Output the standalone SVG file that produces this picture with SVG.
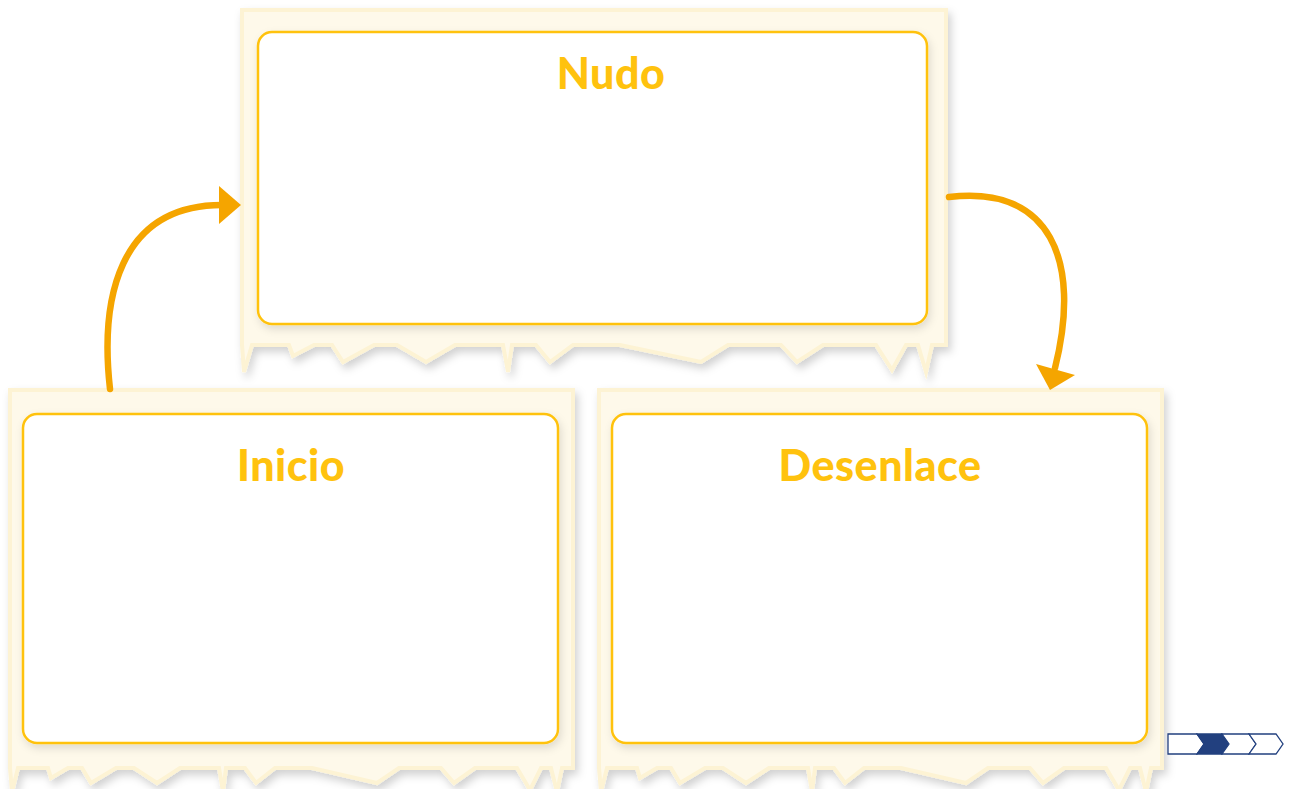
<svg xmlns="http://www.w3.org/2000/svg" width="1291" height="789" viewBox="0 0 1291 789">
<defs>
<style>
.paper{fill:#FEF9EA;stroke:#FDF3D4;stroke-width:4;filter:url(#sh)}
.card{fill:#FFFFFF;stroke:#FFC20E;stroke-width:2.5;filter:url(#sh2)}
.title{font-family:Lato,"Liberation Sans",sans-serif;font-weight:900;font-size:43px;fill:#FFC20E;text-anchor:middle;letter-spacing:0.5px}
.conn{fill:none;stroke:#F5A500;stroke-width:6.5;stroke-linecap:round}
.head{fill:#F5A500}
.chev{fill:#FFFFFF;stroke:#22407F;stroke-width:1.3}
</style>
<filter id="sh" x="-5%" y="-5%" width="110%" height="115%">
<feDropShadow dx="3" dy="5" stdDeviation="4" flood-color="#000" flood-opacity="0.18"/>
</filter>
<filter id="sh2" x="-5%" y="-5%" width="110%" height="115%">
<feDropShadow dx="2" dy="4" stdDeviation="4" flood-color="#000" flood-opacity="0.12"/>
</filter>
<path id="pb" d="M10,390 H573 V768 L562,768 L557,792 L551,768 L541,768 L530,790 L517,768 L475,768 L454,783 L441,768 L399,768 L377,783 L312,768 L275,768 L256,783 L245,768 L226,768 L223,792 L219,768 L180,768 L157,783 L134,768 L116,768 L91,783 L82,768 L68,768 L51,778 L48,768 L18,768 L12,792 L10,768 Z"/>
</defs>
<rect width="1291" height="789" fill="#FFFFFF"/>
<g id="nudo">
<path class="paper" d="M242,10 H946 V345 L932,345 L926,372 L918,345 L906,345 L892,370 L876,345 L823,345 L797,362 L781,345 L728,345 L701,362 L620,345 L573,345 L550,362 L536,345 L512,345 L508,372 L503,345 L455,345 L426,362 L397,345 L374,345 L343,362 L332,345 L314,345 L293,356 L289,345 L252,345 L244,372 L242,345 Z"/>
<rect class="card" x="258" y="32" width="669" height="292" rx="14"/>
<text class="title" x="611" y="89">Nudo</text>
</g>
<g id="inicio">
<use href="#pb" class="paper"/>
<rect class="card" x="23" y="414" width="535" height="329" rx="14"/>
<text class="title" x="291" y="481">Inicio</text>
</g>
<g id="desenlace">
<use href="#pb" class="paper" transform="translate(589,0)"/>
<rect class="card" x="612" y="414" width="535" height="329" rx="14"/>
<text class="title" x="880" y="481">Desenlace</text>
</g>
<g id="connectors">
<path class="conn" d="M110,389 C100,300 118,205 222,205"/>
<polygon class="head" points="219,186 241,205 219,224"/>
<path class="conn" d="M949,197 C1050,185 1082,260 1055,368"/>
<polygon class="head" points="1036,364 1075,375 1050,390"/>
</g>
<g id="progress">
<polygon class="chev" points="1168,734 1197,734 1204,744 1197,754 1168,754"/>
<polygon points="1197,734 1222,734 1229,744 1222,754 1197,754 1204,744" fill="#22407F" stroke="#22407F" stroke-width="1.3"/>
<polygon class="chev" points="1222,734 1249,734 1256,744 1249,754 1222,754 1229,744"/>
<polygon class="chev" points="1249,734 1276,734 1283,744 1276,754 1249,754 1256,744"/>
</g>
</svg>
